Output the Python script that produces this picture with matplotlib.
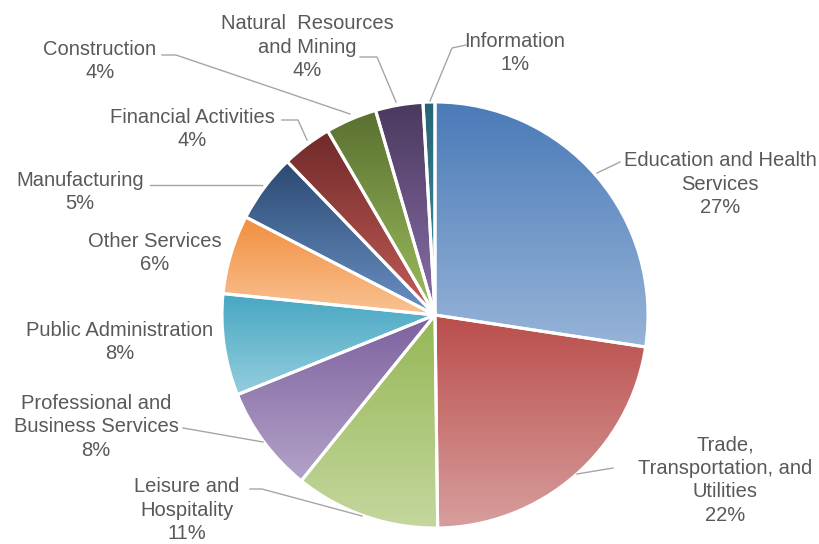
import numpy as np
import matplotlib.pyplot as plt
from matplotlib.colors import to_rgb

plt.rcParams['font.family'] = ['Liberation Sans', 'DejaVu Sans']

sectors = ['Education and Health\nServices', 'Trade,\nTransportation, and\nUtilities',
           'Leisure and\nHospitality', 'Professional and\nBusiness Services',
           'Public Administration', 'Other Services', 'Manufacturing',
           'Financial Activities', 'Construction', 'Natural  Resources\nand Mining',
           'Information']
shares = [27.4, 22.4, 11.0, 8.1, 7.7, 6.0, 5.2, 3.8, 3.9, 3.6, 0.9]

# Gradiente por porción: color arriba -> color abajo
top_colors = ['#4A7AB8', '#BA4E4B', '#95B754', '#7D619F', '#47A7C2', '#F28E3F',
              '#2B4A72', '#6F2A28', '#5A7030', '#4A395E', '#266577']
bottom_colors = ['#97B4D8', '#D79E9D', '#C4D79E', '#B3A3C8', '#94CEDE', '#F9C393',
                 '#6A90C4', '#C45D5A', '#9DBE5E', '#8A70AA', '#3F8FA5']

# Posiciones de etiquetas (píxeles) y líneas guía
label_xy = [(720, 184), (725, 480), (187, 510), (96, 427), (120, 342), (155, 253),
            (80, 192), (192, 129), (100, 61), (307, 47), (515, 53)]
leaders = [
    [(597, 173), (620, 162)],
    [(577, 474), (613, 468)],
    [(250, 489), (262, 489), (362, 516)],
    [(183, 428), (263, 442)],
    None,
    None,
    [(150, 185), (262, 185)],
    [(282, 120), (298, 120), (307, 140)],
    [(162, 55), (176, 55), (350, 114)],
    [(360, 57), (377, 57), (396, 102)],
    [(466, 45), (452, 48), (430, 101)],
]

W, H = 820, 544
fig = plt.figure(figsize=(W / 100, H / 100), dpi=100)
ax = fig.add_axes([0, 0, 1, 1])

def fy(y):
    return H - y

cx, cy, R = 435, fy(315), 213
wedges, _ = ax.pie(shares, center=(cx, cy), radius=R, startangle=90, counterclock=False,
                   wedgeprops=dict(edgecolor='white', linewidth=2.2, facecolor='none'),
                   frame=True)

for w, c0, c1 in zip(wedges, top_colors, bottom_colors):
    t = np.radians(np.linspace(w.theta1, w.theta2, 100))
    ys = np.concatenate([cy + R * np.sin(t), [cy]])
    xs = np.concatenate([cx + R * np.cos(t), [cx]])
    y0, y1 = ys.min(), ys.max()
    f = np.linspace(0, 1, 200)[:, None]
    grad = (1 - f) * np.array(to_rgb(c0)) + f * np.array(to_rgb(c1))
    im = ax.imshow(grad[:, None, :], extent=[xs.min(), xs.max(), y0, y1],
                   origin='upper', aspect='auto', zorder=1, interpolation='bilinear')
    im.set_clip_path(w)
    w.set_zorder(2)

for name, pct, (lx, ly), ld in zip(sectors, shares, label_xy, leaders):
    ax.text(lx, fy(ly), f'{name}\n{round(pct)}%', ha='center', va='center', fontsize=14.5,
            color='#595959', linespacing=1.3)
    if ld:
        ax.plot([p[0] for p in ld], [fy(p[1]) for p in ld], color='#A6A6A6', lw=1, zorder=3)

ax.set_xlim(0, W)
ax.set_ylim(0, H)
ax.set_aspect('equal')
ax.axis('off')

fig.savefig('out.png', dpi=100, facecolor='white')
